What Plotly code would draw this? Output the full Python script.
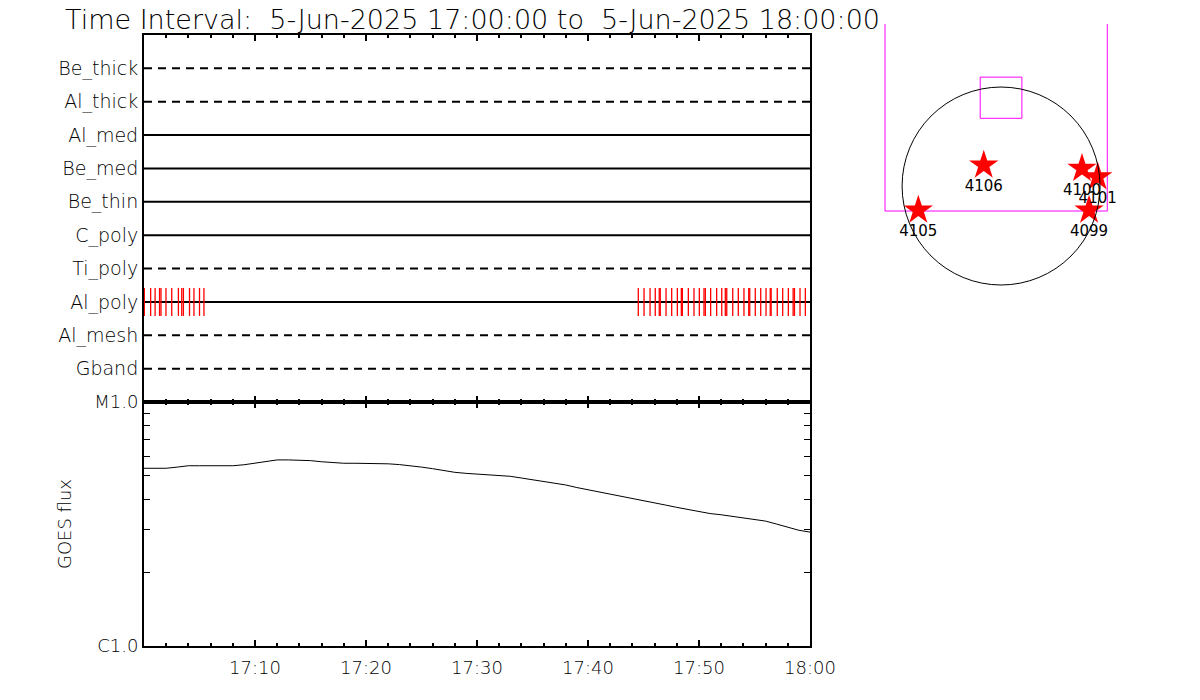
import pandas as pd
import plotly.graph_objects as go

t_start = pd.Timestamp("2025-06-05 17:00:00")
t_end = pd.Timestamp("2025-06-05 18:00:00")

# detector rows, top to bottom
detectors = ["Be_thick", "Al_thick", "Al_med", "Be_med", "Be_thin",
             "C_poly", "Ti_poly", "Al_poly", "Al_mesh", "Gband"]
dashed_rows = ["Be_thick", "Al_thick", "Ti_poly", "Al_mesh", "Gband"]

# Al_poly exposure events (minutes after 17:00)
al_poly_events = [0.03, 0.6, 1.0, 1.4, 1.53, 1.98, 2.5, 3.1, 3.4, 3.55, 4.1, 4.5, 5.0, 5.4,
                  44.53, 45.05, 45.59, 46.06, 46.42, 46.51, 47.03, 47.54, 48.05, 48.41,
                  48.50, 49.04, 49.55, 50.03, 50.45, 50.57, 51.05, 51.59, 52.05, 52.37,
                  52.5, 53.04, 53.54, 54.05, 54.48, 54.57, 55.07, 55.56, 56.04, 56.42,
                  56.5, 57.05, 57.54, 58.05, 58.48, 58.6, 59.1, 59.58]

# GOES 1-8 A flux, 1-min cadence
goes_minutes = list(range(61))
goes_flux = [5.35e-6, 5.35e-6, 5.35e-6, 5.41e-6, 5.48e-6, 5.48e-6, 5.48e-6, 5.48e-6, 5.48e-6, 5.53e-6,
             5.61e-6, 5.71e-6, 5.79e-6, 5.79e-6, 5.79e-6, 5.75e-6, 5.69e-6, 5.64e-6, 5.61e-6, 5.61e-6,
             5.61e-6, 5.61e-6, 5.58e-6, 5.54e-6, 5.49e-6, 5.41e-6, 5.33e-6, 5.24e-6, 5.15e-6, 5.10e-6,
             5.07e-6, 5.05e-6, 5.02e-6, 4.96e-6, 4.88e-6, 4.80e-6, 4.73e-6, 4.65e-6, 4.57e-6, 4.46e-6,
             4.37e-6, 4.29e-6, 4.21e-6, 4.13e-6, 4.04e-6, 3.96e-6, 3.88e-6, 3.78e-6, 3.70e-6, 3.63e-6,
             3.56e-6, 3.49e-6, 3.45e-6, 3.40e-6, 3.36e-6, 3.31e-6, 3.25e-6, 3.16e-6, 3.06e-6, 2.98e-6,
             2.93e-6]

time_ticks = ["17:10", "17:20", "17:30", "17:40", "17:50", "18:00"]

# active regions on the disk (arcsec)
ar_numbers = ["4106", "4100", "4101", "4099", "4105"]
ar_x = [-166, 777, 928, 845, -794]
ar_y = [200, 168, 87, -232, -232]
r_sun = 950
fov_x = [-200, 200]
fov_y = [650, 1045]
box_x = [-1114, -1114, 1020, 1020]
box_y = [4000, -240, -240, 4000]

W, H = 1200, 700
OFF = 8  # page body margin
FONT = "DejaVu Sans"


def px_x(p):
    return (p - OFF) / W


def px_y(p):
    return 1 - (p - OFF) / H


fig = go.Figure()

# detector rows
for i, name in enumerate(detectors):
    fig.add_trace(go.Scatter(
        x=[t_start, t_end], y=[i, i], mode="lines",
        line=dict(color="black", width=2, dash="8px,6px" if name in dashed_rows else "solid"),
        xaxis="x", yaxis="y", showlegend=False, hoverinfo="skip",
    ))

ev_times = [t_start + pd.Timedelta(minutes=m) for m in al_poly_events]
fig.add_trace(go.Scatter(
    x=ev_times, y=[detectors.index("Al_poly")] * len(ev_times), mode="markers",
    marker=dict(symbol="line-ns", size=20, line=dict(color="red", width=1.3)),
    xaxis="x", yaxis="y", showlegend=False,
))

# GOES curve
goes_times = [t_start + pd.Timedelta(minutes=m) for m in goes_minutes]
fig.add_trace(go.Scatter(
    x=goes_times, y=goes_flux, mode="lines",
    line=dict(color="black", width=1),
    xaxis="x2", yaxis="y2", showlegend=False,
))

# solar disk panel
fig.add_trace(go.Scatter(
    x=box_x, y=box_y, mode="lines", line=dict(color="#ff00ff", width=1),
    xaxis="x3", yaxis="y3", showlegend=False, hoverinfo="skip",
))
fig.add_trace(go.Scatter(
    x=[fov_x[0], fov_x[1], fov_x[1], fov_x[0], fov_x[0]],
    y=[fov_y[0], fov_y[0], fov_y[1], fov_y[1], fov_y[0]],
    mode="lines", line=dict(color="#ff00ff", width=1),
    xaxis="x3", yaxis="y3", showlegend=False, hoverinfo="skip",
))
fig.add_trace(go.Scatter(
    x=ar_x, y=ar_y, mode="markers+text", text=ar_numbers,
    textposition="bottom center", textfont=dict(family=FONT, size=15, color="black"),
    marker=dict(symbol="star", size=22, color="red"),
    xaxis="x3", yaxis="y3", showlegend=False,
))
fig.add_shape(type="circle", xref="x3", yref="y3",
              x0=-r_sun, x1=r_sun, y0=-r_sun, y1=r_sun,
              line=dict(color="black", width=1))

x_dom = [px_x(144), px_x(810)]
major_vals = [t_start + pd.Timedelta(minutes=10 * k) for k in range(1, 7)]
common_x = dict(
    domain=x_dom, type="date", range=[t_start, t_end], automargin=False,
    showline=True, linecolor="black", linewidth=2, mirror="ticks",
    ticks="inside", ticklen=6, tickwidth=2, tickcolor="black",
    tickvals=major_vals, showgrid=False, zeroline=False,
    minor=dict(ticks="inside", ticklen=3, tickwidth=2, tickcolor="black",
               dtick=120000, tick0=t_start, showgrid=False),
)

fig.update_layout(
    width=W, height=H,
    margin=dict(l=0, r=0, t=0, b=0, autoexpand=False),
    paper_bgcolor="white", plot_bgcolor="white",
    font=dict(family=FONT, color="black", size=18),
    xaxis=dict(common_x, anchor="y", showticklabels=False),
    yaxis=dict(
        domain=[px_y(402), px_y(35)], range=[10, -1], automargin=False,
        tickvals=list(range(len(detectors))), ticktext=detectors,
        ticks="", showline=True, linecolor="black", linewidth=2, mirror=True,
        showgrid=False, zeroline=False, tickfont=dict(size=19, weight=200),
    ),
    xaxis2=dict(common_x, anchor="y2", ticktext=time_ticks,
                tickfont=dict(size=18, weight=200), ticklabelstandoff=4),
    yaxis2=dict(
        domain=[px_y(646), px_y(402)], type="log", range=[-6, -5], automargin=False,
        tickvals=[1e-6, 1e-5], ticktext=["C1.0", "M1.0"],
        ticks="inside", ticklen=6, tickwidth=1, tickcolor="black",
        minor=dict(ticks="inside", ticklen=6, tickwidth=1, tickcolor="black",
                   tickvals=[k * 1e-6 for k in range(2, 10)], showgrid=False),
        showline=True, linecolor="black", linewidth=2, mirror="ticks",
        showgrid=False, zeroline=False, tickfont=dict(size=18, weight=200),
        title=dict(text="GOES flux", font=dict(size=18, weight=200), standoff=18),
    ),
    xaxis3=dict(domain=[px_x(870), px_x(1130)], range=[-1258, 1238],
                visible=False, anchor="y3", automargin=False),
    yaxis3=dict(domain=[px_y(300), px_y(24)], range=[-1094, 1555],
                visible=False, anchor="x3", automargin=False),
    annotations=[dict(
        text="Time Interval:\u00a0\u00a05-Jun-2025 17:00:00 to\u00a0\u00a05-Jun-2025 18:00:00",
        xref="paper", yref="paper", x=px_x(63), y=px_y(19.5),
        xanchor="left", yanchor="middle", showarrow=False,
        font=dict(size=27, weight=200),
    )],
)

fig.write_html("out.html")
